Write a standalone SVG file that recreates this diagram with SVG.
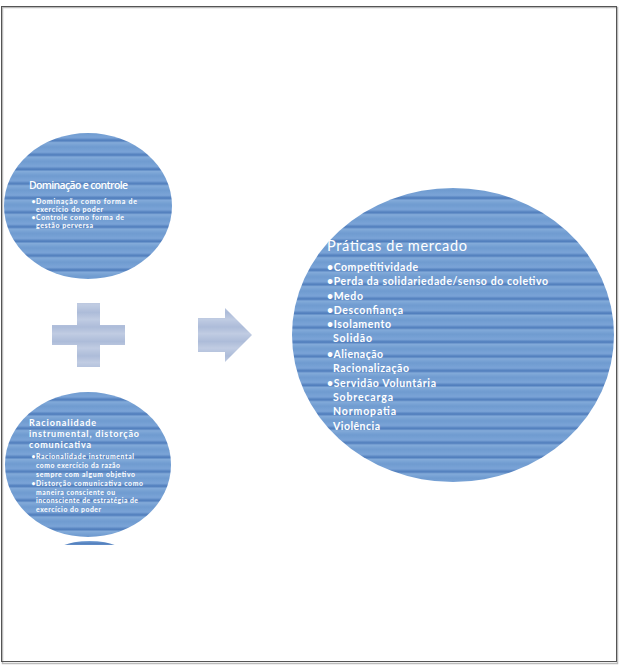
<svg xmlns="http://www.w3.org/2000/svg" width="622" height="669" viewBox="0 0 622 669">
<style>
.t{font-family:Lato,"Open Sans","Liberation Sans",sans-serif;fill:#ffffff}
.tt{font-family:"Open Sans",Lato,sans-serif;font-weight:600}
.b{font-weight:700}
</style>
<defs>
<linearGradient id="sg" x1="0" y1="0" x2="0" y2="1">
<stop offset="0" stop-color="#6f9bd0"/>
<stop offset="0.35" stop-color="#7ba4d7"/>
<stop offset="0.55" stop-color="#4c7aba"/>
<stop offset="0.7" stop-color="#82aad9"/>
<stop offset="1" stop-color="#6f9bd0"/>
</linearGradient>
<pattern id="stripes" patternUnits="userSpaceOnUse" x="0" y="3" width="20" height="14.4">
<rect width="20" height="14.4" fill="url(#sg)"/>
</pattern>
<linearGradient id="pg" x1="0" y1="0" x2="0" y2="1">
<stop offset="0" stop-color="#bfcbe2"/>
<stop offset="0.5" stop-color="#adbcd9"/>
<stop offset="1" stop-color="#c2cde3"/>
</linearGradient>
<pattern id="pstripes" patternUnits="userSpaceOnUse" x="0" y="3" width="20" height="14.4">
<rect width="20" height="14.4" fill="url(#pg)"/>
</pattern>
<clipPath id="cut"><rect x="0" y="0" width="622" height="545"/></clipPath>
</defs>
<rect x="0" y="0" width="622" height="669" fill="#ffffff"/>
<rect x="2.5" y="7.5" width="615" height="656" fill="none" stroke="#bbbbbb" stroke-width="1.5"/>
<rect x="1.5" y="6.5" width="615" height="655" fill="none" stroke="#555555" stroke-width="1"/>

<g id="dominacao">
<ellipse cx="88" cy="206" rx="84" ry="73" fill="url(#stripes)"/>
<text class="t tt" x="29" y="189" font-size="10.5" textLength="99">Dominação e controle</text>
<text class="t b" font-size="7">
<tspan x="31.5" y="203.5">•</tspan><tspan x="36" y="203.5" textLength="101">Dominação como forma de</tspan>
<tspan x="36" y="211.5" textLength="67">exercício do poder</tspan>
<tspan x="31.5" y="220">•</tspan><tspan x="36" y="220" textLength="88">Controle como forma de</tspan>
<tspan x="36" y="228" textLength="57">gestão perversa</tspan>
</text>
</g>

<g id="racionalidade">
<ellipse cx="88" cy="464.5" rx="83" ry="72.5" fill="url(#stripes)"/>
<ellipse cx="89.5" cy="559" rx="40" ry="18" fill="url(#stripes)" clip-path="url(#cut)"/>
<text class="t" font-size="9" font-weight="700">
<tspan x="29" y="425.5" textLength="67">Racionalidade</tspan>
<tspan x="29" y="436.5" textLength="110">instrumental, distorção</tspan>
<tspan x="29" y="447.5" textLength="62">comunicativa</tspan>
</text>
<text class="t b" font-size="6.8">
<tspan x="31.5" y="459">•</tspan><tspan x="36" y="459" textLength="98">Racionalidade instrumental</tspan>
<tspan x="36" y="468" textLength="84">como exercício da razão</tspan>
<tspan x="36" y="476.5" textLength="99">sempre com algum objetivo</tspan>
<tspan x="31.5" y="486">•</tspan><tspan x="36" y="486" textLength="107">Distorção comunicativa como</tspan>
<tspan x="36" y="494.5" textLength="79">maneira consciente ou</tspan>
<tspan x="36" y="503" textLength="102">inconsciente de estratégia de</tspan>
<tspan x="36" y="512" textLength="65">exercício do poder</tspan>
</text>
</g>

<g id="praticas">
<ellipse cx="453" cy="335" rx="161" ry="147" fill="url(#stripes)"/>
<text class="t" x="327" y="250.5" font-size="14.5" textLength="140">Práticas de mercado</text>
<text class="t b" font-size="10.5">
<tspan x="327" y="270.5" textLength="91">•Competitividade</tspan>
<tspan x="327" y="285" textLength="221">•Perda da solidariedade/senso  do coletivo</tspan>
<tspan x="327" y="299.5" textLength="36">•Medo</tspan>
<tspan x="327" y="314" textLength="76">•Desconfiança</tspan>
<tspan x="327" y="328" textLength="64">•Isolamento</tspan>
<tspan x="333" y="342" textLength="39">Solidão</tspan>
<tspan x="327" y="357.5" textLength="56">•Alienação</tspan>
<tspan x="333" y="372" textLength="76">Racionalização</tspan>
<tspan x="327" y="386.5" textLength="109">•Servidão Voluntária</tspan>
<tspan x="333" y="401" textLength="60">Sobrecarga</tspan>
<tspan x="333" y="415" textLength="63">Normopatia</tspan>
<tspan x="333" y="430" textLength="47">Violência</tspan>
</text>
</g>

<g id="connectors">
<path d="M77,303 H100 V325 H125 V345 H100 V367 H77 V345 H52 V325 H77 Z" fill="url(#pstripes)"/>
<path d="M198,318 H225 V308 L252,335 L225,362 V352 H198 Z" fill="url(#pstripes)"/>
</g>
</svg>
